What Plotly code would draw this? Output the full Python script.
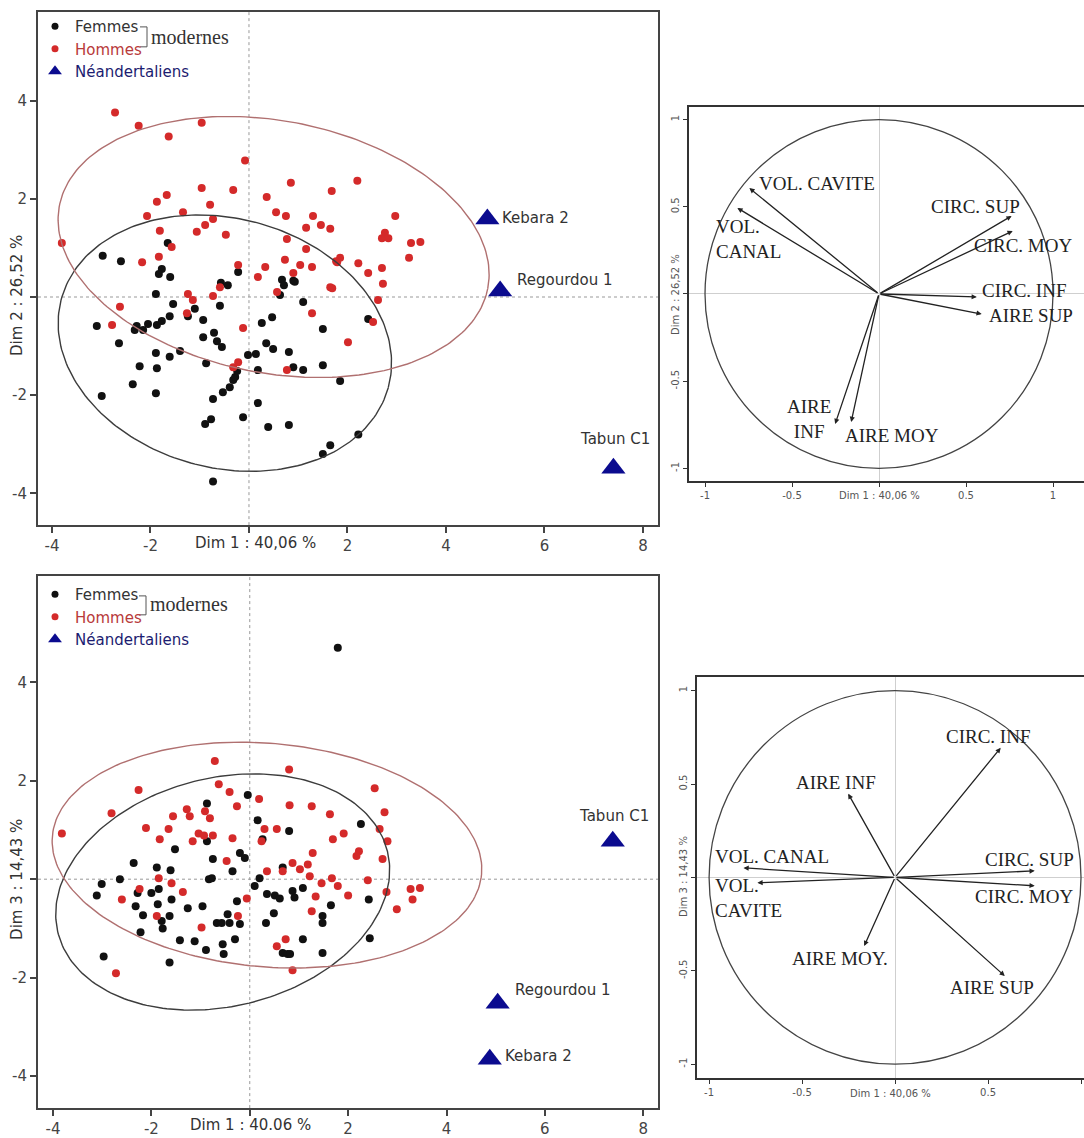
import numpy as np
import plotly.graph_objects as go

W, H = 1084, 1138

# ---------------- data ----------------
# Plan 1-2 : Dim 1 vs Dim 2
femmes_p12_dim1 = [-2.97, -2.60, -1.65, -1.77, -1.60, -1.83, -0.22, -0.57, -0.43, 0.67, 0.71, 0.90,
                   -3.09, -2.99, -2.64, -2.36, -2.22, -2.32, -2.28, -2.15, -2.05, -1.89, -1.87, -1.89,
                   -1.87, -1.77, -1.89, -1.61, -1.54, -1.61, -1.40, -1.24, -1.10, -0.93, -0.93, -0.87,
                   -0.89, -0.77, -0.73, -0.73, -0.59, -0.71, -0.65, -0.55, -0.53, -0.39, -0.32, -0.28,
                   -0.24, -0.12, -0.02, 0.14, 0.18, 0.18, 0.26, 0.35, 0.47, 0.49, 0.39, 0.81, 0.81,
                   0.90, 1.10, 1.10, 0.63, 1.50, 1.50, 1.50, 1.65, 1.85, 2.42, 2.22, 0.93]
femmes_p12_dim2 = [0.84, 0.73, 1.10, 0.57, 0.41, 0.47, 0.51, 0.29, 0.24, 0.35, 0.24, 0.33,
                   -0.59, -2.02, -0.94, -1.78, -1.41, -0.67, -0.59, -0.67, -0.55, -1.96, -1.45, -1.14,
                   -0.57, -0.49, 0.06, -0.39, -0.14, -1.22, -1.10, -0.39, -0.24, -0.47, -0.82, -1.35,
                   -2.59, -2.49, -2.08, -3.76, -0.18, -0.73, -0.90, -1.02, -1.94, -1.84, -1.69, -1.63,
                   -1.51, -2.45, -1.18, -1.16, -1.49, -2.16, -0.53, -0.94, -0.41, -1.06, -2.65, -1.12, -2.61,
                   -1.43, -1.49, -0.10, 0.04, -0.65, -1.39, -3.20, -3.02, -1.71, -0.45, -2.80, 0.31]

hommes_p12_dim1 = [-2.72, -2.24, -1.63, -0.96, -0.08, -0.96, -0.32, 0.85, 1.68, 0.36, -1.67, -1.87,
                   -0.79, -1.34, -2.07, -0.73, -0.89, -1.06, -0.47, -1.81, 0.55, 0.75, 1.30, 1.16,
                   1.46, 1.65, 0.77, -3.80, 1.16, -1.57, -1.83, -2.17, -0.22, 0.33, 0.73, 1.04,
                   1.28, 1.77, 0.18, 0.90, 1.65, 2.20, 2.97, 2.76, 2.70, 2.83, 3.29, 3.48,
                   1.85, 1.79, 2.22, 2.42, 2.70, 3.25, 2.72, -2.78, -2.62, -1.26, -1.24, -1.14,
                   -0.73, -0.59, -0.22, -0.32, -0.12, 0.77, 0.57, 1.28, 2.52, 2.01, 2.62, 1.69]
hommes_p12_dim2 = [3.76, 3.49, 3.27, 3.55, 2.78, 2.22, 2.18, 2.33, 2.16, 2.04, 2.08, 1.94,
                   1.88, 1.73, 1.65, 1.59, 1.47, 1.33, 1.27, 1.35, 1.73, 1.65, 1.65, 1.41,
                   1.47, 1.39, 1.18, 1.10, 0.98, 1.02, 0.82, 0.71, 0.65, 0.61, 0.76, 0.65,
                   0.61, 0.73, 0.41, 0.49, 0.20, 2.37, 1.65, 1.31, 1.20, 1.20, 1.10, 1.12,
                   0.80, 0.71, 0.69, 0.49, 0.59, 0.80, 0.27, -0.57, -0.20, -0.33, 0.06, -0.06,
                   0.02, 0.20, -1.33, -1.43, -0.63, -1.49, 0.10, -0.33, -0.51, -0.92, -0.06, 0.18]

# Plan 1-3 : Dim 1 vs Dim 3
femmes_p13_dim1 = [1.79, -0.04, -0.87, 0.16, 0.80, -0.87, 0.26, 2.26, -3.11, -3.01, -2.97, -2.64,
                   -2.36, -2.32, -2.28, -2.17, -2.22, -2.00, -1.89, -1.85, -1.87, -1.79, -1.77, -1.63,
                   -1.61, -1.59, -1.52, -1.63, -1.42, -1.26, -1.12, -0.96, -0.89, -0.83, -0.77, -0.75,
                   -0.67, -0.57, -0.55, -0.53, -0.45, -0.41, -0.35, -0.30, -0.26, -0.20, -0.20, -0.10,
                   0.10, 0.20, 0.33, 0.35, 0.49, 0.51, 0.61, 0.67, 0.67, 0.77, 0.87, 0.91,
                   1.08, 1.08, 1.48, 1.65, 1.48, 1.48, 2.42, 2.44, 0.82]
femmes_p13_dim3 = [4.70, 1.71, 1.54, 1.20, 0.98, 0.77, 0.81, 1.12, -0.33, -0.10, -1.57, 0.00,
                   0.33, -0.55, -0.28, -0.73, -1.08, -0.28, 0.24, -0.20, -0.51, -0.85, -1.00, -0.75,
                   0.18, -0.41, 0.61, -1.69, -1.24, -0.59, -1.26, -0.55, -1.44, 0.00, 0.02, 0.41,
                   -0.89, -0.89, -1.32, -1.52, -0.71, -0.89, 0.16, -1.22, -0.45, -0.91, 0.53, 0.43,
                   -0.14, 0.02, -0.89, -0.30, -0.69, -0.33, -0.39, 0.24, -1.50, -1.52, -0.24, -0.37,
                   -0.18, -1.22, -1.50, -0.53, -0.75, -0.89, -0.41, -1.20, -1.52]

hommes_p13_dim1 = [-0.71, 0.80, -0.63, -2.26, -0.41, -0.26, 0.19, -2.81, -1.56, -1.28, -1.22, -0.91,
                   -0.81, 0.81, 1.26, 1.63, -3.82, -2.11, -1.65, -1.04, -0.93, -0.75, -0.35, 0.30,
                   0.55, -1.83, -1.16, 1.69, 0.24, 2.54, 2.74, 1.91, 2.64, 2.80, -2.60, -2.72,
                   -2.24, -1.85, -1.59, -1.36, -1.89, -0.98, -0.47, -0.24, -0.06, 0.35, 0.67, 0.87,
                   1.02, 1.18, 1.22, 1.28, 1.34, 1.26, 1.46, 1.67, 0.55, 0.73, 0.87, 1.79,
                   2.22, 2.17, 2.70, 2.40, 2.00, 2.78, 3.27, 3.46, 3.31, 2.99]
hommes_p13_dim3 = [2.40, 2.23, 1.93, 1.81, 1.77, 1.48, 1.63, 1.34, 1.28, 1.42, 1.28, 1.38,
                   1.24, 1.50, 1.48, 1.32, 0.93, 1.04, 1.02, 0.93, 0.89, 0.89, 0.83, 1.02,
                   1.02, 0.81, 0.77, 0.81, 0.77, 1.85, 1.36, 0.93, 1.02, 0.77, -0.41, -1.91,
                   -0.20, 0.02, -0.08, -0.26, -0.75, -0.98, 0.37, -0.75, -0.39, 0.16, 0.16, 0.33,
                   0.20, 0.30, 0.06, 0.53, -0.35, -0.65, -0.08, 0.02, -1.36, -1.22, -1.85, -0.14,
                   0.57, 0.47, 0.41, -0.02, -0.33, -0.26, -0.20, -0.18, -0.41, -0.61]

neander_names = ["Kebara 2", "Regourdou 1", "Tabun C1"]
neander_p12_dim1 = [4.84, 5.10, 7.40]
neander_p12_dim2 = [1.59, 0.12, -3.49]
neander_p13_dim1 = [4.88, 5.04, 7.38]
neander_p13_dim3 = [-3.66, -2.52, 0.77]

# Variables (correlation circles)
variables = ["VOL. CAVITE", "VOL. CANAL", "CIRC. SUP", "CIRC. MOY",
             "CIRC. INF", "AIRE SUP", "AIRE INF", "AIRE MOY"]
var_p12_dim1 = [-0.745, -0.814, 0.762, 0.768, 0.562, 0.590, -0.252, -0.160]
var_p12_dim2 = [0.607, 0.493, 0.447, 0.361, -0.017, -0.115, -0.745, -0.734]
var_p13_dim1 = [-0.740, -0.815, 0.751, 0.751, 0.568, 0.590, -0.252, -0.166]
var_p13_dim3 = [-0.029, 0.051, 0.035, -0.045, 0.694, -0.528, 0.448, -0.367]
var_p12_labels = ["VOL. CAVITE", "VOL.<br>CANAL", "CIRC. SUP", "CIRC. MOY",
                  "CIRC. INF", "AIRE SUP", "AIRE<br>INF", "AIRE MOY"]
var_p13_labels = ["VOL.<br>CAVITE", "VOL. CANAL", "CIRC. SUP", "CIRC. MOY",
                  "CIRC. INF", "AIRE SUP", "AIRE INF", "AIRE MOY."]

# Confidence ellipses: (centre x, centre y, semi-axis a, semi-axis b, angle deg)
ell_p12_femmes = (-0.49, -0.94, 3.44, 2.54, -15.3)
ell_p12_hommes = (0.50, 1.02, 4.43, 2.57, -11.0)
ell_p13_femmes = (-0.55, -0.26, 3.45, 2.32, 13.9)
ell_p13_hommes = (0.35, 0.49, 4.38, 2.27, -5.1)

# ---------------- styles ----------------
SANS = "DejaVu Sans"
SERIF = "Liberation Serif"
C_F = "#111111"
C_H = "#d42a2a"
C_N = "#0b0b8f"
C_EF = "#3c3c3c"
C_EH = "#b07070"

# label placement (xanchor, xshift, yshift) -- style, not data
p12_label_style = [("left", 8, 5), ("left", -23, -31), ("right", 10, 9), ("left", -41, -15),
                   ("left", 3, 6), ("left", 5, -1), ("center", -26, 5), ("left", -8, -14)]
p13_label_style = [("left", -44, -15), ("left", -30, 11), ("right", 41, 11), ("right", 40, -11),
                   ("right", 31, 11), ("center", -13, -11), ("center", -12, 11), ("center", -24, -13)]
neander_p12_style = [("left", 13, 1), ("left", 15, 11), ("center", 2, 29)]
neander_p13_style = [("left", 13, 3), ("left", 15, 13), ("center", 1, 25)]


def px(x):
    return x / W


def py(y):
    return 1 - y / H


def ellipse_xy(p, n=240):
    cx, cy, a, b, th = p
    t = np.linspace(0, 2 * np.pi, n)
    r = np.radians(th)
    x = cx + a * np.cos(t) * np.cos(r) - b * np.sin(t) * np.sin(r)
    y = cy + a * np.cos(t) * np.sin(r) + b * np.sin(t) * np.cos(r)
    return x, y


fig = go.Figure()


def add_scatter_panel(xa, ya, fx, fy, hx, hy, nx, ny, ef, eh, nstyle, legend):
    fig.add_trace(go.Scatter(x=fx, y=fy, mode="markers", xaxis=xa, yaxis=ya, showlegend=False,
                             marker=dict(color=C_F, size=8), hoverinfo="skip"))
    fig.add_trace(go.Scatter(x=hx, y=hy, mode="markers", xaxis=xa, yaxis=ya, showlegend=False,
                             marker=dict(color=C_H, size=8), hoverinfo="skip"))
    for p, col in ((ef, C_EF), (eh, C_EH)):
        ex, ey = ellipse_xy(p)
        fig.add_trace(go.Scatter(x=ex, y=ey, mode="lines", xaxis=xa, yaxis=ya, showlegend=False,
                                 line=dict(color=col, width=1.4), hoverinfo="skip"))
    fig.add_trace(go.Scatter(x=nx, y=ny, mode="markers", xaxis=xa, yaxis=ya, showlegend=False,
                             marker=dict(color=C_N, size=21, symbol="triangle-up"), hoverinfo="skip"))
    for i, nm in enumerate(neander_names):
        anc, xs, ys = nstyle[i]
        fig.add_annotation(x=nx[i], y=ny[i], xref=xa, yref=ya, text=nm, showarrow=False,
                           xanchor=anc, xshift=xs, yshift=ys,
                           font=dict(family=SANS, size=15, color="#333"))
    # legend entries
    fig.add_trace(go.Scatter(x=[None], y=[None], mode="markers", xaxis=xa, yaxis=ya, name="Femmes",
                             legend=legend, marker=dict(color=C_F, size=7)))
    fig.add_trace(go.Scatter(x=[None], y=[None], mode="markers", xaxis=xa, yaxis=ya,
                             name='<span style="color:#b83a3a">Hommes</span>',
                             legend=legend, marker=dict(color=C_H, size=7)))
    fig.add_trace(go.Scatter(x=[None], y=[None], mode="markers", xaxis=xa, yaxis=ya,
                             name='<span style="color:#1c1c70">Néandertaliens</span>',
                             legend=legend, marker=dict(color=C_N, size=12, symbol="triangle-up")))


add_scatter_panel("x", "y", femmes_p12_dim1, femmes_p12_dim2, hommes_p12_dim1, hommes_p12_dim2,
                  neander_p12_dim1, neander_p12_dim2, ell_p12_femmes, ell_p12_hommes,
                  neander_p12_style, "legend")
add_scatter_panel("x3", "y3", femmes_p13_dim1, femmes_p13_dim3, hommes_p13_dim1, hommes_p13_dim3,
                  neander_p13_dim1, neander_p13_dim3, ell_p13_femmes, ell_p13_hommes,
                  neander_p13_style, "legend2")


def add_circle_panel(xa, ya, vx, vy, labels, style):
    fig.add_shape(type="circle", xref=xa, yref=ya, x0=-1, x1=1, y0=-1, y1=1,
                  line=dict(color="#444", width=1.3))
    for i in range(len(vx)):
        fig.add_annotation(x=vx[i], y=vy[i], ax=0, ay=0, xref=xa, yref=ya, axref=xa, ayref=ya,
                           text="", showarrow=True, arrowhead=2, arrowsize=0.8, arrowwidth=1.3,
                           arrowcolor="#222", standoff=0)
        anc, xs, ys = style[i]
        fig.add_annotation(x=vx[i], y=vy[i], xref=xa, yref=ya, text=labels[i], showarrow=False,
                           xanchor=anc, xshift=xs, yshift=ys, align=anc,
                           font=dict(family=SERIF, size=19, color="#222"))


add_circle_panel("x2", "y2", var_p12_dim1, var_p12_dim2, var_p12_labels, p12_label_style)
add_circle_panel("x4", "y4", var_p13_dim1, var_p13_dim3, var_p13_labels, p13_label_style)

# dotted zero lines in the individual plots
for xa, ya in (("x", "y"), ("x3", "y3")):
    fig.add_shape(type="line", xref=xa, yref=ya + " domain", x0=0, x1=0, y0=0, y1=1,
                  line=dict(color="#999", width=1, dash="dot"), layer="below")
    fig.add_shape(type="line", xref=xa + " domain", yref=ya, x0=0, x1=1, y0=0, y1=0,
                  line=dict(color="#999", width=1, dash="dot"), layer="below")

# "]modernes" brackets
for (x0, y0, y1, ty) in ((140, 27, 47, 37), (139, 598, 617, 606)):
    path = "M {a} {b} L {c} {b} L {c} {d} L {a} {d}".format(a=px(x0), c=px(x0 + 7), b=py(y0), d=py(y1))
    fig.add_shape(type="path", xref="paper", yref="paper", path=path,
                  line=dict(color="#555", width=1))
    fig.add_annotation(x=px(x0 + 9), y=py(ty), xref="paper", yref="paper", text="modernes",
                       showarrow=False, xanchor="left", yanchor="middle",
                       font=dict(family=SERIF, size=20, color="#333"))

# axis titles
big = dict(family=SANS, size=15, color="#333")
small = dict(family=SANS, size=10, color="#555")
titles = [
    ("Dim 1 : 40,06 %", 255, 545, 0, big),
    ("Dim 2 : 26,52 %", 17, 297, -90, big),
    ("Dim 1 : 40.06 %", 250, 1129, 0, big),
    ("Dim 3 : 14,43 %", 17, 883, -90, big),
    ("Dim 1 : 40,06 %", 879, 497, 0, small),
    ("Dim 2 : 26,52 %", 676, 296, -90, small),
    ("Dim 1 : 40,06 %", 890, 1097, 0, small),
    ("Dim 3 : 14,43 %", 684, 880, -90, small),
]
for t, x, y, ang, f in titles:
    fig.add_annotation(x=px(x), y=py(y), xref="paper", yref="paper", text=t, showarrow=False,
                       textangle=ang, xanchor="center", yanchor="middle", font=f)

left_axis = dict(showline=True, mirror=True, linecolor="#444", linewidth=2, ticks="outside",
                 ticklen=6, tickwidth=1.5, tickcolor="#444", showgrid=False, zeroline=False,
                 tickfont=dict(family=SANS, size=15, color="#444"))
right_axis = dict(showline=True, linecolor="#333", linewidth=2, ticks="outside", ticklen=4,
                  tickwidth=1, tickcolor="#333", showgrid=False, zeroline=True,
                  zerolinecolor="#cfcfcf", zerolinewidth=1,
                  tickfont=dict(family=SANS, size=10, color="#555"))

lx = [-4, -2, 0, 2, 4, 6, 8]
lxt = ["-4", "-2", "", "2", "4", "6", "8"]
ly = [-4, -2, 0, 2, 4]
lyt = ["-4", "-2", "", "2", "4"]
rt = [-1, -0.5, 0, 0.5, 1]
rtt = ["-1", "-0.5", "", "0.5", "1"]

fig.update_layout(
    width=W, height=H, margin=dict(l=0, r=0, t=0, b=0),
    paper_bgcolor="white", plot_bgcolor="white",
    xaxis=dict(domain=[px(38), px(658)], range=[-4.284, 8.305], anchor="y",
               tickvals=lx, ticktext=lxt, **left_axis),
    yaxis=dict(domain=[py(527), py(12)], range=[-4.65, 5.81], anchor="x",
               tickvals=ly, ticktext=lyt, **left_axis),
    xaxis3=dict(domain=[px(38), px(658)], range=[-4.305, 8.30], anchor="y3",
                tickvals=lx, ticktext=lxt, **left_axis),
    yaxis3=dict(domain=[py(1112), py(578)], range=[-4.65, 6.16], anchor="x3",
                tickvals=ly, ticktext=lyt, **left_axis),
    xaxis2=dict(domain=[px(689), 1], range=[-1.092, 1.178], anchor="y2", mirror=True,
                tickvals=rt, ticktext=rtt, **right_axis),
    yaxis2=dict(domain=[py(483), py(107)], range=[-1.074, 1.074], anchor="x2", mirror=False,
                tickvals=rt, ticktext=rtt, tickangle=-90, **right_axis),
    xaxis4=dict(domain=[px(697), 1], range=[-1.065, 1.016], anchor="y4", mirror=True,
                tickvals=rt, ticktext=rtt, **right_axis),
    yaxis4=dict(domain=[py(1082), py(679)], range=[-1.075, 1.075], anchor="x4", mirror=False,
                tickvals=rt, ticktext=rtt, tickangle=-90, **right_axis),
    legend=dict(x=px(35), y=py(10), xanchor="left", yanchor="top", bgcolor="rgba(0,0,0,0)",
                font=dict(family=SANS, size=15, color="#333"), tracegroupgap=0,
                itemclick=False, itemdoubleclick=False),
    legend2=dict(x=px(35), y=py(580), xanchor="left", yanchor="top", bgcolor="rgba(0,0,0,0)",
                 font=dict(family=SANS, size=15, color="#333"), tracegroupgap=0,
                 itemclick=False, itemdoubleclick=False),
    showlegend=True,
)

fig.write_html("out.html", config={"displayModeBar": False},
               post_script="document.body.style.margin='0px';")
